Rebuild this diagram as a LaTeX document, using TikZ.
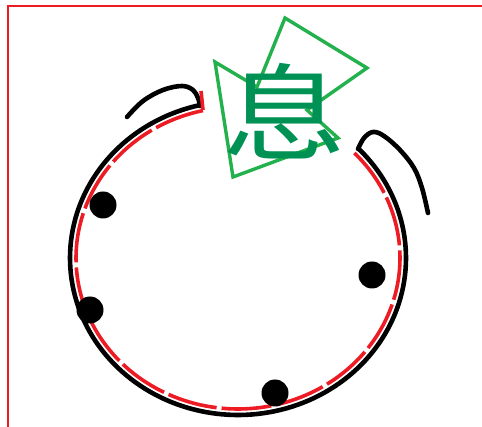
\documentclass[tikz,border=0pt]{standalone}
\usepackage{fontspec}
\newfontfamily\cjk[FakeStretch=1.18]{Noto Sans CJK SC}
\definecolor{pred}{RGB}{237,28,36}
\definecolor{pgreen}{RGB}{34,177,76}
\definecolor{tgreen}{RGB}{0,145,85}
\begin{document}
\begin{tikzpicture}[x=1pt,y=-1pt,
  frame/.style={pred,line width=2.2pt},
  blackline/.style={black,line width=4.6pt,line cap=round,line join=round},
  reddash/.style={pred,line width=3.6pt,dash pattern=on 50pt off 5pt},
  tri/.style={pgreen,line width=3.4pt,line join=miter},
  dot/.style={circle,fill=black,minimum size=27pt,inner sep=0pt},
  glyph/.style={tgreen,inner sep=0pt,font=\cjk\fontsize{105pt}{105pt}\selectfont}]
\useasboundingbox (0,0) rectangle (482,427);
% frame
\draw[frame] (8,427) -- (8,6) -- (482,6);
% black loop
\draw[blackline] plot[smooth,tension=0.6] coordinates {(127,117) (143,101) (163,90) (182,86) (193,90) (198,98) (200,106)};
\draw[blackline] plot[domain=-43.9:256.9,samples=150] ({238+168*cos(\x)},{258+157*sin(\x)});
\draw[blackline] plot[smooth,tension=0.6] coordinates {(358,149) (364,138) (373,132) (384,136) (400,150) (414,168) (422,188) (428,213)};
% red dashed loop
\draw[pred,line width=3.6pt] (201,91) -- (203,110);
\draw[reddash] plot[domain=257.5:-44.3,samples=150] ({238+162*cos(\x)},{258+151*sin(\x)});
% dots
\node[dot] (d1) at (103,205) {};
\node[dot] (d2) at (90,310) {};
\node[dot] (d3) at (372,275) {};
\node[dot] (d4) at (275,393) {};
% green polygon
\draw[tri] (215,62) -- (257,87) -- (285,18) -- (367,68) -- (307,110) -- (338,138) -- (233,177) -- cycle;
% glyph
\node[glyph] (g) at (284,111) {息};
\end{tikzpicture}
\end{document}
